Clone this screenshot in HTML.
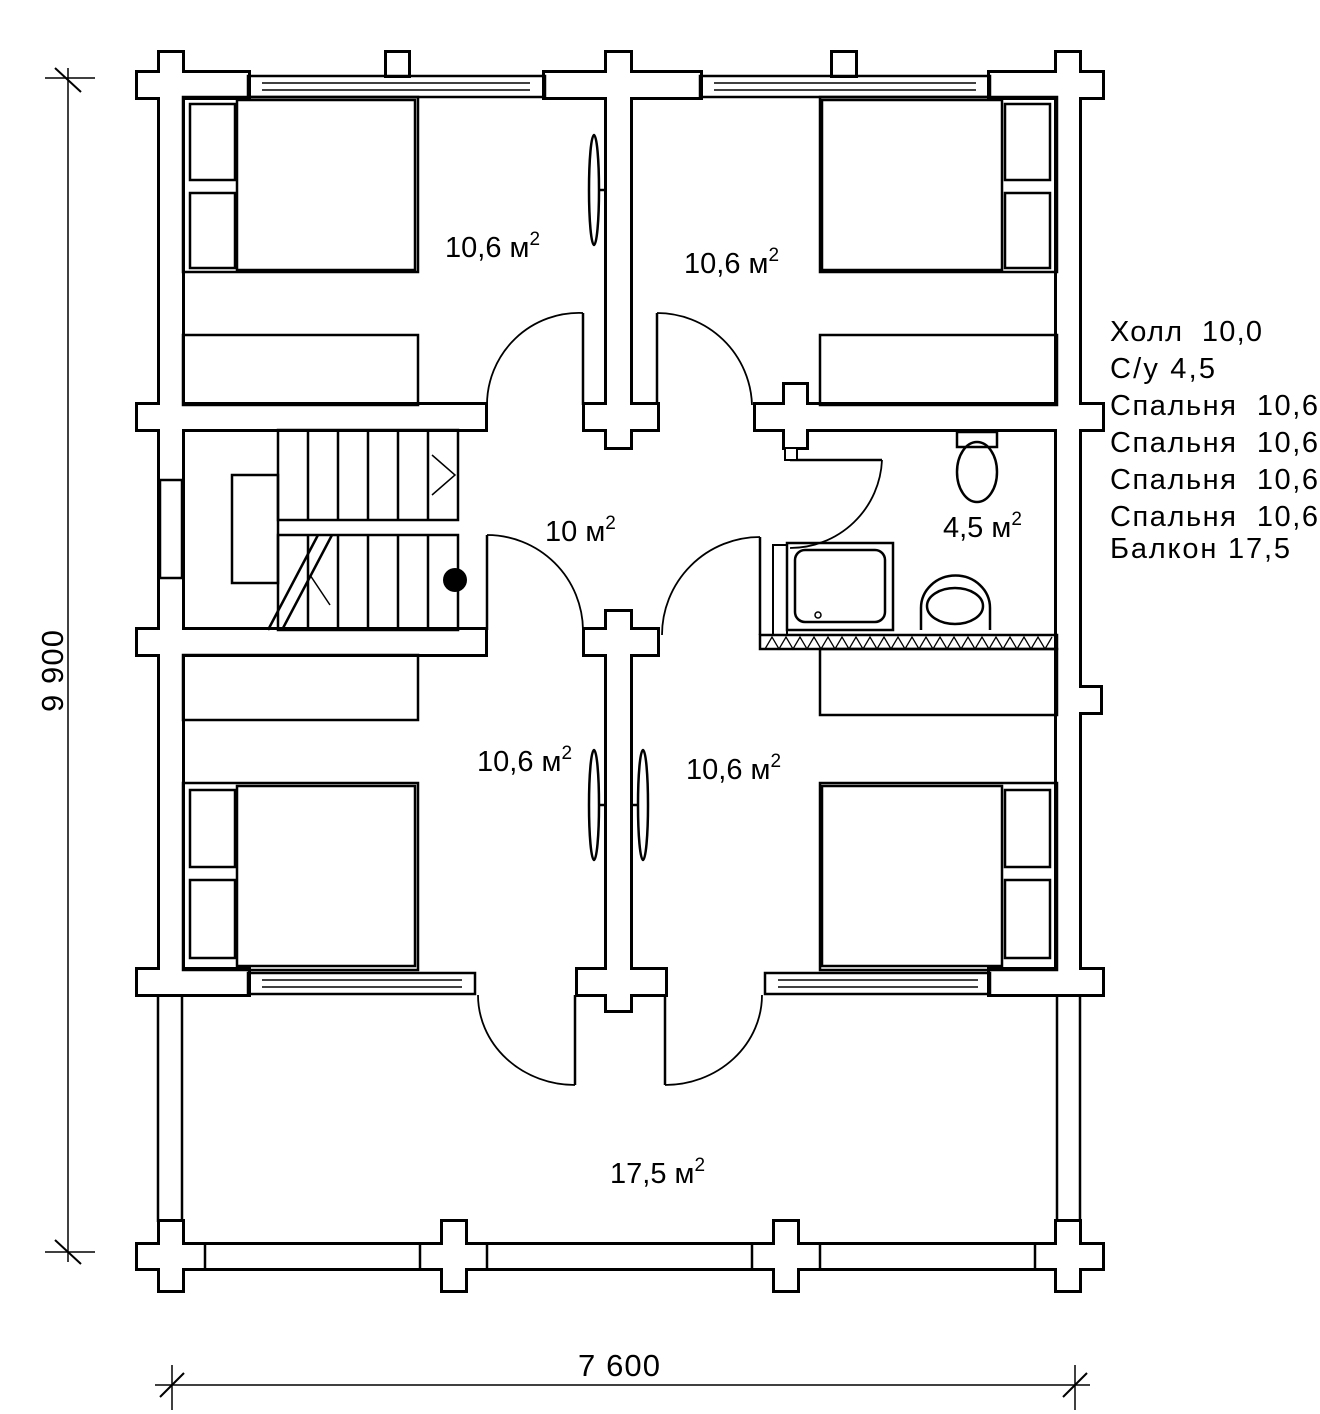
<!DOCTYPE html>
<html><head><meta charset="utf-8"><style>
html,body{margin:0;padding:0;background:#fff}
svg{display:block}
text{font-family:"Liberation Sans",Arial,sans-serif;fill:#000}
</style></head><body>
<svg width="1320" height="1414" viewBox="0 0 1320 1414" xmlns="http://www.w3.org/2000/svg">
<defs>
<g id="walls">
 <rect x="160" y="53" width="22" height="922"/>
 <rect x="1057" y="53" width="22" height="922"/>
 <rect x="138" y="73" width="110" height="24"/>
 <rect x="545" y="73" width="155" height="24"/>
 <rect x="607" y="53" width="23" height="394"/>
 <rect x="990" y="73" width="112" height="24"/>
 <rect x="387" y="53" width="21" height="22"/>
 <rect x="833" y="53" width="22" height="22"/>
 <rect x="138" y="405" width="347" height="24"/>
 <rect x="585" y="405" width="72" height="24"/>
 <rect x="756" y="405" width="346" height="24"/>
 <rect x="785" y="385" width="21" height="62"/>
 <rect x="138" y="630" width="347" height="24"/>
 <rect x="585" y="630" width="72" height="24"/>
 <rect x="607" y="612" width="23" height="398"/>
 <rect x="1057" y="688" width="43" height="24"/>
 <rect x="138" y="970" width="110" height="24"/>
 <rect x="578" y="970" width="87" height="24"/>
 <rect x="990" y="970" width="112" height="24"/>
 <rect x="138" y="1245" width="964" height="23"/>
 <rect x="160" y="1222" width="22" height="68"/>
 <rect x="443" y="1222" width="22" height="68"/>
 <rect x="775" y="1222" width="22" height="68"/>
 <rect x="1057" y="1222" width="22" height="68"/>
 <rect x="138" y="1245" width="67" height="23"/>
 <rect x="420" y="1245" width="67" height="23"/>
 <rect x="752" y="1245" width="68" height="23"/>
 <rect x="1035" y="1245" width="67" height="23"/>
</g>
</defs>
<use href="#walls" fill="#000" stroke="#000" stroke-width="6"/>
<use href="#walls" fill="#fff"/>
<g fill="none" stroke="#000" stroke-width="2.5">
 <line x1="205" y1="1245" x2="205" y2="1268"/><line x1="420" y1="1245" x2="420" y2="1268"/>
 <line x1="487" y1="1245" x2="487" y2="1268"/><line x1="752" y1="1245" x2="752" y2="1268"/>
 <line x1="820" y1="1245" x2="820" y2="1268"/><line x1="1035" y1="1245" x2="1035" y2="1268"/>
 <line x1="158" y1="995" x2="158" y2="1222"/><line x1="182" y1="995" x2="182" y2="1222"/>
 <line x1="1057" y1="995" x2="1057" y2="1222"/><line x1="1080" y1="995" x2="1080" y2="1222"/>
 <rect x="248" y="76" width="297" height="21"/>
 <line x1="262" y1="83" x2="530" y2="83" stroke-width="1.5"/><line x1="262" y1="90" x2="530" y2="90" stroke-width="1.5"/>
 <rect x="700" y="76" width="290" height="21"/>
 <line x1="714" y1="83" x2="976" y2="83" stroke-width="1.5"/><line x1="714" y1="90" x2="976" y2="90" stroke-width="1.5"/>
 <rect x="248" y="973" width="227" height="21"/>
 <line x1="262" y1="980" x2="462" y2="980" stroke-width="1.5"/><line x1="262" y1="987" x2="462" y2="987" stroke-width="1.5"/>
 <rect x="765" y="973" width="225" height="21"/>
 <line x1="778" y1="980" x2="978" y2="980" stroke-width="1.5"/><line x1="778" y1="987" x2="978" y2="987" stroke-width="1.5"/>
 <rect x="160" y="480" width="22" height="98" fill="#fff"/>
 <rect x="183" y="97" width="235" height="175"/>
 <rect x="237" y="100" width="178" height="170"/>
 <rect x="190" y="104" width="45" height="76"/><rect x="190" y="193" width="45" height="75"/>
 <rect x="820" y="97" width="237" height="175"/>
 <rect x="822" y="100" width="180" height="170"/>
 <rect x="1005" y="104" width="45" height="76"/><rect x="1005" y="193" width="45" height="75"/>
 <rect x="183" y="335" width="235" height="70"/>
 <rect x="820" y="335" width="237" height="70"/>
 <rect x="183" y="655" width="235" height="65"/>
 <rect x="820" y="649" width="237" height="66"/>
 <rect x="183" y="783" width="235" height="187"/>
 <rect x="237" y="786" width="178" height="180"/>
 <rect x="190" y="790" width="45" height="77"/><rect x="190" y="880" width="45" height="78"/>
 <rect x="820" y="783" width="237" height="187"/>
 <rect x="822" y="786" width="180" height="180"/>
 <rect x="1005" y="790" width="45" height="77"/><rect x="1005" y="880" width="45" height="78"/>
 <rect x="278" y="430" width="180" height="90"/>
 <rect x="278" y="535" width="180" height="95"/>
 <rect x="232" y="475" width="46" height="108"/>
 <line x1="308" y1="430" x2="308" y2="520"/><line x1="338" y1="430" x2="338" y2="520"/><line x1="368" y1="430" x2="368" y2="520"/><line x1="398" y1="430" x2="398" y2="520"/><line x1="428" y1="430" x2="428" y2="520"/>
 <line x1="308" y1="535" x2="308" y2="630"/><line x1="338" y1="535" x2="338" y2="630"/><line x1="368" y1="535" x2="368" y2="630"/><line x1="398" y1="535" x2="398" y2="630"/><line x1="428" y1="535" x2="428" y2="630"/>
 <line x1="268" y1="630" x2="318" y2="535"/><line x1="282" y1="630" x2="332" y2="535"/>
 <polyline points="432,455 455,475 432,495" stroke-width="1.5"/>
 <line x1="310" y1="575" x2="330" y2="605" stroke-width="1.5"/>
 <line x1="583" y1="313" x2="583" y2="405"/><path d="M583 313 A92 92 0 0 0 487 405" stroke-width="1.8"/>
 <line x1="657" y1="313" x2="657" y2="405"/><path d="M657 313 A95 95 0 0 1 752 405" stroke-width="1.8"/>
 <line x1="487" y1="535" x2="487" y2="630"/><path d="M487 535 A96 96 0 0 1 583 630" stroke-width="1.8"/>
 <line x1="760" y1="537" x2="760" y2="635"/><path d="M760 537 A98 98 0 0 0 662 635" stroke-width="1.8"/>
 <line x1="790" y1="460" x2="882" y2="460"/><path d="M882 460 A92 92 0 0 1 790 548" stroke-width="1.8"/>
 <line x1="575" y1="995" x2="575" y2="1085"/><path d="M478 995 A97 90 0 0 0 575 1085" stroke-width="1.8"/>
 <line x1="665" y1="995" x2="665" y2="1085"/><path d="M762 995 A97 90 0 0 1 665 1085" stroke-width="1.8"/>
 <ellipse cx="594" cy="190" rx="5" ry="55"/><line x1="599" y1="190" x2="607" y2="190"/>
 <ellipse cx="594" cy="805" rx="5" ry="55"/><line x1="599" y1="805" x2="607" y2="805"/>
 <ellipse cx="643" cy="805" rx="5" ry="55"/><line x1="630" y1="805" x2="638" y2="805"/>
 <rect x="787" y="543" width="106" height="87"/>
 <rect x="795" y="550" width="90" height="72" rx="10"/>
 <circle cx="818" cy="615" r="3" stroke-width="1.5"/>
 <rect x="773" y="545" width="14" height="90" stroke-width="2"/>
 <path d="M957 432 h40 v15 h-40 z"/>
 <ellipse cx="977" cy="472" rx="20" ry="30"/>
 <path d="M921 630 v-22 a34 32 0 0 1 69 0 v22"/>
 <ellipse cx="955" cy="606" rx="28" ry="18"/>
 <rect x="760" y="635" width="297" height="14" stroke-width="2.5"/>
 <polyline stroke-width="1.3" points="765,649 772,637 779,649 786,637 793,649 800,637 807,649 814,637 821,649 828,637 835,649 842,637 849,649 856,637 863,649 870,637 877,649 884,637 891,649 898,637 905,649 912,637 919,649 926,637 933,649 940,637 947,649 954,637 961,649 968,637 975,649 982,637 989,649 996,637 1003,649 1010,637 1017,649 1024,637 1031,649 1038,637 1045,649 1052,637"/>
 <line x1="68" y1="68" x2="68" y2="1262" stroke-width="1.5"/>
 <line x1="45" y1="78" x2="95" y2="78" stroke-width="1.5"/><line x1="45" y1="1252" x2="95" y2="1252" stroke-width="1.5"/>
 <line x1="55" y1="68" x2="81" y2="92" stroke-width="2"/><line x1="55" y1="1240" x2="81" y2="1264" stroke-width="2"/>
 <line x1="155" y1="1385" x2="1090" y2="1385" stroke-width="1.5"/>
 <line x1="172" y1="1365" x2="172" y2="1410" stroke-width="1.5"/><line x1="1075" y1="1365" x2="1075" y2="1410" stroke-width="1.5"/>
 <line x1="160" y1="1397" x2="184" y2="1373" stroke-width="2"/><line x1="1063" y1="1397" x2="1087" y2="1373" stroke-width="2"/>
</g>
<circle cx="455" cy="580" r="12" fill="#000"/>
<rect x="785" y="448" width="12" height="12" fill="#fff" stroke="#000" stroke-width="2"/>
<g font-size="29">
 <text x="445" y="257">10,6 м<tspan font-size="19" dy="-12">2</tspan></text>
 <text x="684" y="273">10,6 м<tspan font-size="19" dy="-12">2</tspan></text>
 <text x="545" y="541">10 м<tspan font-size="19" dy="-12">2</tspan></text>
 <text x="943" y="537">4,5 м<tspan font-size="19" dy="-12">2</tspan></text>
 <text x="477" y="771">10,6 м<tspan font-size="19" dy="-12">2</tspan></text>
 <text x="686" y="779">10,6 м<tspan font-size="19" dy="-12">2</tspan></text>
 <text x="610" y="1183">17,5 м<tspan font-size="19" dy="-12">2</tspan></text>
 <text x="578" y="1376" font-size="31" textLength="82">7 600</text>
 <text transform="translate(63,712) rotate(-90)" font-size="31" textLength="82">9 900</text>
</g>
<g font-size="29">
 <text x="1110" y="341" textLength="152">Холл&#160;&#160;10,0</text>
 <text x="1110" y="378" textLength="105">С/у 4,5</text>
 <text x="1110" y="415" textLength="208">Спальня&#160;&#160;10,6</text>
 <text x="1110" y="452" textLength="208">Спальня&#160;&#160;10,6</text>
 <text x="1110" y="489" textLength="208">Спальня&#160;&#160;10,6</text>
 <text x="1110" y="526" textLength="208">Спальня&#160;&#160;10,6</text>
 <text x="1110" y="558" textLength="180">Балкон 17,5</text>
</g>
</svg>
</body></html>
